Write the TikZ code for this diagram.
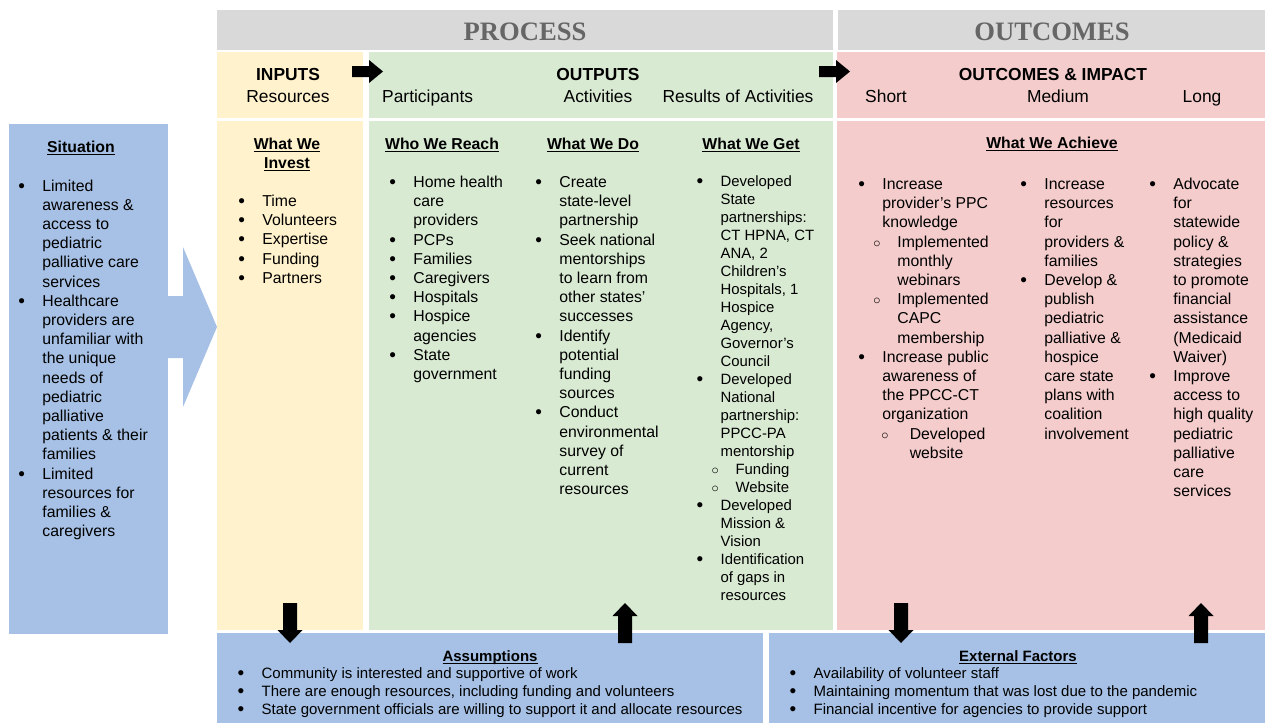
\documentclass[tikz,border=0pt]{standalone}
\usepackage{fontspec}
\setmainfont{Liberation Sans}
\newfontfamily\titlefont{Liberation Serif}
\usetikzlibrary{positioning}

\definecolor{bandgray}{HTML}{D9D9D9}
\definecolor{titlegray}{HTML}{666666}
\definecolor{inyellow}{HTML}{FFF2CC}
\definecolor{outgreen}{HTML}{D9EAD3}
\definecolor{impink}{HTML}{F4CCCC}
\definecolor{sitblue}{HTML}{A6C1E5}

\newcommand{\bitem}{\makebox[24pt][l]{\raisebox{-1pt}{\fontsize{19}{19}\selectfont\textbullet}}}
\newcommand{\bcont}{\hspace*{24pt}}
\newcommand{\sitem}[1][15pt]{\hspace*{#1}\makebox[24pt][l]{$\circ$}}
\newcommand{\scont}[1][39pt]{\hspace*{#1}}
\newcommand{\ulhead}[1]{\setbox0\hbox{#1}\rlap{\rule[-2.2pt]{\wd0}{1.1pt}}\box0}

\begin{document}
\begin{tikzpicture}[x=1pt,y=-1pt,
  band/.style={fill=bandgray},
  title/.style={anchor=base, inner sep=0pt, text=titlegray, font=\titlefont\bfseries\fontsize{26.6}{30}\selectfont},
  colhead/.style={anchor=base, inner sep=0pt, font=\fontsize{17.4}{22}\selectfont},
  colheadb/.style={colhead, font=\bfseries\fontsize{17.4}{22}\selectfont},
  subhead/.style={anchor=base, inner sep=0pt, font=\bfseries\fontsize{15.8}{19.2}\selectfont},
  foothead/.style={subhead, font=\bfseries\fontsize{15}{18}\selectfont},
  list/.style={anchor=base west, inner sep=0pt, font=\fontsize{15.8}{19.2}\selectfont},
  smalllist/.style={list, font=\fontsize{14.9}{18}\selectfont},
  footlist/.style={list, font=\fontsize{15}{18}\selectfont},
  blockarrow/.style={fill=black}]

\useasboundingbox (0,0) rectangle (1265,723);

% bands and columns
\fill[band] (217,10) rectangle (833,50);
\fill[band] (838,10) rectangle (1265,50);
\fill[inyellow] (217,52) rectangle (363,118);
\fill[inyellow] (217,121) rectangle (363,630);
\fill[outgreen] (369,52) rectangle (833,118);
\fill[outgreen] (369,121) rectangle (833,630);
\fill[impink] (837,52) rectangle (1265,118);
\fill[impink] (837,121) rectangle (1265,630);
\fill[sitblue] (9,124) rectangle (168,634);
\fill[sitblue] (166,296) -- (183,296) -- (183,247) -- (217,327) -- (183,407) -- (183,358) -- (166,358) -- cycle;
\fill[sitblue] (217,633) rectangle (763,723);
\fill[sitblue] (769,633) rectangle (1265,723);

\node[title] (process) at (525,40) {PROCESS};
\node[title] (outcomes) at (1052,40) {OUTCOMES};

\node[colheadb] (inputs) at (288,80) {INPUTS};
\node[colhead] (resources) at (288,102) {Resources};
\node[colhead, anchor=base west] (participants) at (382,102) {Participants};
\node[colheadb] (outputs) at (598,80) {OUTPUTS};
\node[colhead] (activities) at (598,102) {Activities};
\node[colhead] (results) at (738,102) {Results of Activities};
\node[colheadb] (impact) at (1053,80) {OUTCOMES \& IMPACT};
\node[colhead] (short) at (886,102) {Short};
\node[colhead] (medium) at (1058,102) {Medium};
\node[colhead] (long) at (1202,102) {Long};

% black arrows
\fill[blockarrow] (352,66) -- (369,66) -- (369,60) -- (383,71.5) -- (369,83) -- (369,77) -- (352,77) -- cycle;
\fill[blockarrow] (819,66) -- (836,66) -- (836,60) -- (850,71.5) -- (836,83) -- (836,77) -- (819,77) -- cycle;
\foreach \ax in {290,901}
  \fill[blockarrow] (\ax-7,603) -- (\ax+7,603) -- (\ax+7,630) -- (\ax+12.5,630) -- (\ax,643) -- (\ax-12.5,630) -- (\ax-7,630) -- cycle;
\foreach \ax in {625,1201}
  \fill[blockarrow] (\ax-7,643) -- (\ax+7,643) -- (\ax+7,616) -- (\ax+12.5,616) -- (\ax,603) -- (\ax-12.5,616) -- (\ax-7,616) -- cycle;

% situation
\node[subhead] (situation) at (81,152.5) {\ulhead{Situation}};
\node[list] (sitlist) at (18.2,191) {\begin{tabular}[t]{@{}l@{}}
\bitem Limited\\ \bcont awareness \&\\ \bcont access to\\ \bcont pediatric\\ \bcont palliative care\\ \bcont services\\
\bitem Healthcare\\ \bcont providers are\\ \bcont unfamiliar with\\ \bcont the unique\\ \bcont needs of\\ \bcont pediatric\\ \bcont palliative\\ \bcont patients \& their\\ \bcont families\\
\bitem Limited\\ \bcont resources for\\ \bcont families \&\\ \bcont caregivers
\end{tabular}};

% inputs
\node[subhead] (invest) at (287,149.5) {\begin{tabular}[t]{@{}c@{}}\ulhead{What We}\\ \ulhead{Invest}\end{tabular}};
\node[list] (investlist) at (238.2,206.5) {\begin{tabular}[t]{@{}l@{}}
\bitem Time\\ \bitem Volunteers\\ \bitem Expertise\\ \bitem Funding\\ \bitem Partners
\end{tabular}};

% outputs
\node[subhead] (reach) at (442,149.5) {\ulhead{Who We Reach}};
\node[list] (reachlist) at (389.2,187.5) {\begin{tabular}[t]{@{}l@{}}
\bitem Home health\\ \bcont care\\ \bcont providers\\ \bitem PCPs\\ \bitem Families\\ \bitem Caregivers\\ \bitem Hospitals\\ \bitem Hospice\\ \bcont agencies\\ \bitem State\\ \bcont government
\end{tabular}};
\node[subhead] (whatdo) at (593,149.5) {\ulhead{What We Do}};
\node[list] (dolist) at (535.2,187.5) {\begin{tabular}[t]{@{}l@{}}
\bitem Create\\ \bcont state-level\\ \bcont partnership\\
\bitem Seek national\\ \bcont mentorships\\ \bcont to learn from\\ \bcont other states’\\ \bcont successes\\
\bitem Identify\\ \bcont potential\\ \bcont funding\\ \bcont sources\\
\bitem Conduct\\ \bcont environmental\\ \bcont survey of\\ \bcont current\\ \bcont resources
\end{tabular}};
\node[subhead] (whatget) at (751,149.5) {\ulhead{What We Get}};
\node[smalllist] (getlist) at (696.4,186.5) {\begin{tabular}[t]{@{}l@{}}
\bitem Developed\\ \bcont State\\ \bcont partnerships:\\ \bcont CT HPNA, CT\\ \bcont ANA, 2\\ \bcont Children’s\\ \bcont Hospitals, 1\\ \bcont Hospice\\ \bcont Agency,\\ \bcont Governor’s\\ \bcont Council\\
\bitem Developed\\ \bcont National\\ \bcont partnership:\\ \bcont PPCC-PA\\ \bcont mentorship\\
\sitem Funding\\ \sitem Website\\
\bitem Developed\\ \bcont Mission \&\\ \bcont Vision\\
\bitem Identification\\ \bcont of gaps in\\ \bcont resources
\end{tabular}};

% outcomes
\node[subhead] (achieve) at (1052,148.5) {\ulhead{What We Achieve}};
\node[list] (shortlist) at (858.2,189.5) {\begin{tabular}[t]{@{}l@{}}
\bitem Increase\\ \bcont provider’s PPC\\ \bcont knowledge\\
\sitem Implemented\\ \scont monthly\\ \scont webinars\\
\sitem Implemented\\ \scont CAPC\\ \scont membership\\
\bitem Increase public\\ \bcont awareness of\\ \bcont the PPCC-CT\\ \bcont organization\\
\sitem[23pt] Developed\\ \scont[47pt] website
\end{tabular}};
\node[list] (mediumlist) at (1020.2,189.5) {\begin{tabular}[t]{@{}l@{}}
\bitem Increase\\ \bcont resources\\ \bcont for\\ \bcont providers \&\\ \bcont families\\
\bitem Develop \&\\ \bcont publish\\ \bcont pediatric\\ \bcont palliative \&\\ \bcont hospice\\ \bcont care state\\ \bcont plans with\\ \bcont coalition\\ \bcont involvement
\end{tabular}};
\node[list] (longlist) at (1149.2,189.5) {\begin{tabular}[t]{@{}l@{}}
\bitem Advocate\\ \bcont for\\ \bcont statewide\\ \bcont policy \&\\ \bcont strategies\\ \bcont to promote\\ \bcont financial\\ \bcont assistance\\ \bcont (Medicaid\\ \bcont Waiver)\\
\bitem Improve\\ \bcont access to\\ \bcont high quality\\ \bcont pediatric\\ \bcont palliative\\ \bcont care\\ \bcont services
\end{tabular}};

% assumptions and external factors
\node[foothead] (assume) at (490,661.5) {\ulhead{Assumptions}};
\node[footlist] (assumelist) at (237.4,678.5) {\begin{tabular}[t]{@{}l@{}}
\bitem Community is interested and supportive of work\\
\bitem There are enough resources, including funding and volunteers\\
\bitem State government officials are willing to support it and allocate resources
\end{tabular}};
\node[foothead] (external) at (1018,661.5) {\ulhead{External Factors}};
\node[footlist] (externallist) at (789.4,678.5) {\begin{tabular}[t]{@{}l@{}}
\bitem Availability of volunteer staff\\
\bitem Maintaining momentum that was lost due to the pandemic\\
\bitem Financial incentive for agencies to provide support
\end{tabular}};
\end{tikzpicture}
\end{document}
